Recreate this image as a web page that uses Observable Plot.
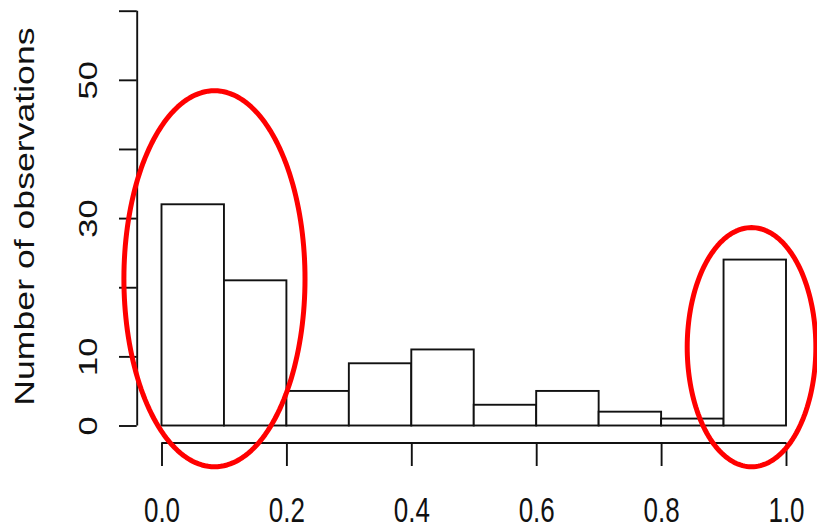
<!DOCTYPE html>
<html>
<head>
<meta charset="utf-8">
<script src="https://cdn.jsdelivr.net/npm/d3@7"></script>
<script src="https://cdn.jsdelivr.net/npm/@observablehq/plot@0.6"></script>
<style>
  html, body { margin: 0; padding: 0; background: #ffffff; }
  #chart { width: 817px; height: 528px; overflow: hidden; }
</style>
</head>
<body>
<div id="chart"></div>
<script>
// ---- data ----
const binStarts = [0.0, 0.1, 0.2, 0.3, 0.4, 0.5, 0.6, 0.7, 0.8, 0.9];
const binEnds   = [0.1, 0.2, 0.3, 0.4, 0.5, 0.6, 0.7, 0.8, 0.9, 1.0];
const counts    = [32, 21, 5, 9, 11, 3, 5, 2, 1, 24];

const xTicks = [0.0, 0.2, 0.4, 0.6, 0.8, 1.0];
const yTicks = [0, 10, 20, 30, 40, 50, 60];
const yTickLabels = [0, 10, 30, 50];
const yTitle = "Number of observations";
const xDomain = [0, 1];
const yDomain = [0, 60];

// red highlight ellipses (centre / radii in data units)
const ellipseCx = [0.084, 0.944];
const ellipseCy = [21.3, 11.4];
const ellipseRx = [0.145, 0.103];
const ellipseRy = [27.2, 17.3];

// ---- tables built from the arrays ----
const bins = counts.map((c, i) => ({x1: binStarts[i], x2: binEnds[i], count: c}));
const ellipsePts = [];
ellipseCx.forEach((cx, k) => {
  const n = 180;
  for (let j = 0; j <= n; j++) {
    const t = (j / n) * 2 * Math.PI;
    ellipsePts.push({id: k, x: cx + ellipseRx[k] * Math.cos(t), y: ellipseCy[k] + ellipseRy[k] * Math.sin(t)});
  }
});

// ---- layout ----
const W = 817, H = 528;
const mL = 119, mR = 31, mT = 10.7, mB = 62;
const yAxisX = 136.7;      // pixel x of R's offset y axis
const xAxisY = 442.5;      // pixel y of R's offset x axis
const ink = "#111";
const lw = 1.9;

const plot = Plot.plot({
  width: W,
  height: H,
  marginLeft: mL,
  marginRight: mR,
  marginTop: mT,
  marginBottom: mB,
  style: {background: "#ffffff", fontFamily: "'Liberation Sans', Arial, sans-serif", overflow: "visible"},
  x: {domain: xDomain, insetLeft: 42.5, axis: null},
  y: {domain: yDomain, insetBottom: 40.5, axis: null},
  marks: [
    Plot.rectY(bins, {x1: "x1", x2: "x2", y: "count", fill: "white", stroke: ink, strokeWidth: lw}),
    // y axis (offset, R style)
    Plot.ruleX([xDomain[0]], {y1: yDomain[0], y2: yDomain[1], dx: -24.8, stroke: ink, strokeWidth: lw}),
    Plot.ruleY(yTicks, {y: d => d, insetRight: W - mR - yAxisX, stroke: ink, strokeWidth: lw}),
    Plot.text(yTickLabels, {y: d => d, text: d => String(d), frameAnchor: "left", textAnchor: "middle", lineAnchor: "middle", dx: -30.6, rotate: -90, fontSize: 26, fill: ink}),
    Plot.text([yTitle], {y: (yDomain[0] + yDomain[1]) / 2, text: d => d, frameAnchor: "left", textAnchor: "middle", lineAnchor: "middle", dx: -94.6, dy: -2, rotate: -90, fontSize: 27, fill: ink}),
    // x axis (offset, R style)
    Plot.ruleY([yDomain[0]], {x1: xDomain[0], x2: xDomain[1], dy: 17, stroke: ink, strokeWidth: lw}),
    Plot.ruleX(xTicks, {x: d => d, insetTop: xAxisY - mT, stroke: ink, strokeWidth: lw}),
    Plot.text(xTicks, {x: d => d, text: d3.format(".1f"), frameAnchor: "bottom", textAnchor: "middle", lineAnchor: "middle", dy: 44.6, fontSize: 26, fill: ink}),
    // red annotation ellipses
    Plot.line(ellipsePts, {x: "x", y: "y", z: "id", stroke: "#ff0000", strokeWidth: 5, curve: "linear"})
  ]
});

// R's (stretched) text: widen glyphs vertically
d3.select(plot).selectAll("text").each(function () {
  const t = this.getAttribute("transform");
  const rot = /rotate/.test(t || "");
  const s = rot ? "scale(1.32,1)" : "scale(1,1.32)";
  if (t) {
    this.setAttribute("transform", t + " " + s);
  } else {
    const x = this.getAttribute("x") || 0, y = this.getAttribute("y") || 0;
    this.removeAttribute("x");
    this.removeAttribute("y");
    this.setAttribute("transform", `translate(${x},${y}) ${s}`);
  }
});

document.getElementById("chart").appendChild(plot);
</script>
</body>
</html>
